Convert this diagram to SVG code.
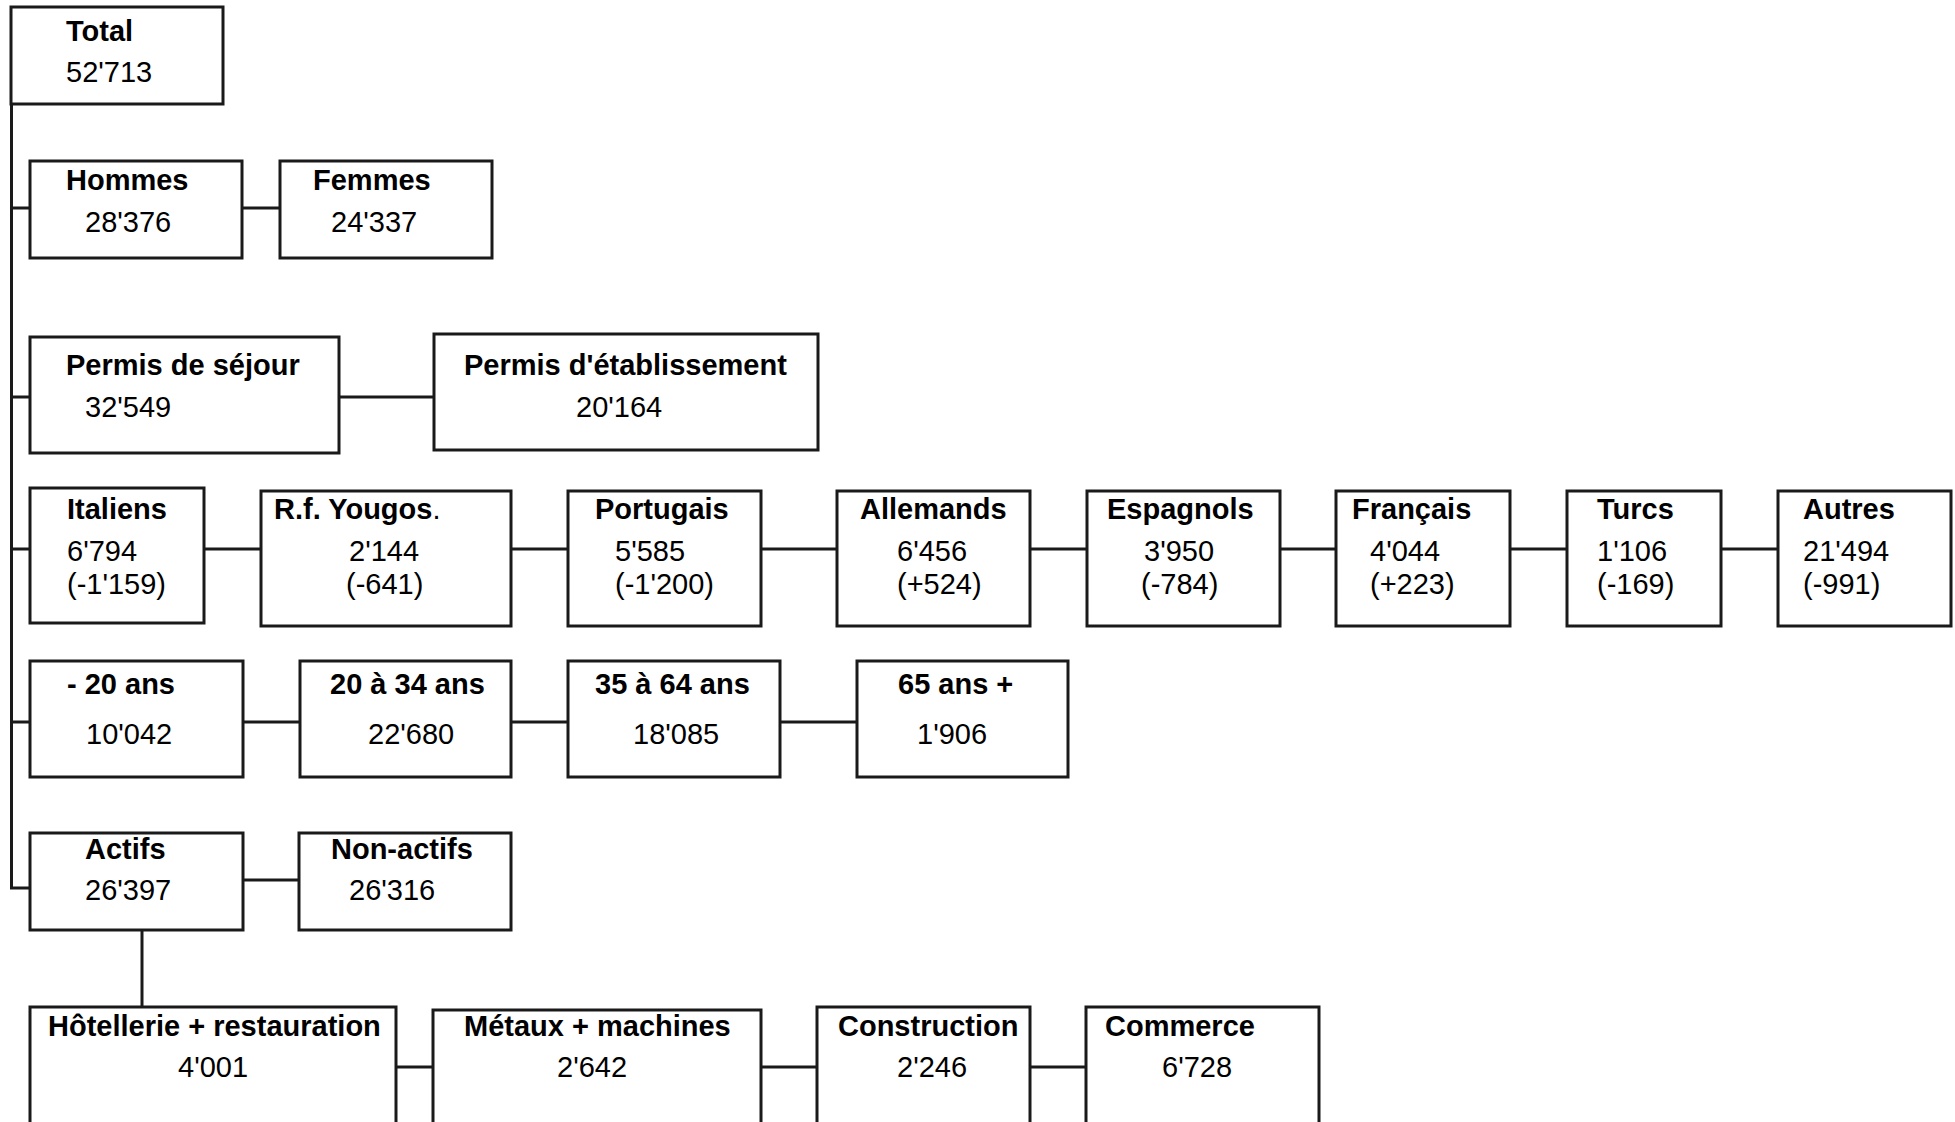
<svg xmlns="http://www.w3.org/2000/svg" width="1955" height="1122" viewBox="0 0 1955 1122">
<style>
.box{fill:#fff;stroke:#1a1a1a;stroke-width:3}
.ln{stroke:#1a1a1a;stroke-width:3;fill:none}
text{font-family:"Liberation Sans",Arial,sans-serif;font-size:29px;fill:#000}
.b{font-weight:bold}
</style>
<rect width="1955" height="1122" fill="#fff"/>
<g id="connectors">
<path class="ln" d="M11.5,104 V888 H30"/>
<path class="ln" d="M11.5,208 H30 M11.5,397 H30 M11.5,549 H30 M11.5,722 H30"/>
<path class="ln" d="M242,208 H280"/>
<path class="ln" d="M339,397 H434"/>
<path class="ln" d="M204,549 H261 M511,549 H568 M761,549 H837 M1030,549 H1087 M1280,549 H1336 M1510,549 H1567 M1721,549 H1778"/>
<path class="ln" d="M243,722 H300 M511,722 H568 M780,722 H857"/>
<path class="ln" d="M243,880 H299"/>
<path class="ln" d="M142,930 V1007"/>
<path class="ln" d="M396,1067 H433 M761,1067 H817 M1030,1067 H1086"/>
</g>
<g id="total"><rect class="box" x="11" y="7" width="212" height="97"/><text class="b" x="66" y="41">Total</text><text x="66" y="82">52'713</text></g>
<g id="hommes"><rect class="box" x="30" y="161" width="212" height="97"/><text class="b" x="66" y="190">Hommes</text><text x="85" y="232">28'376</text></g>
<g id="femmes"><rect class="box" x="280" y="161" width="212" height="97"/><text class="b" x="313" y="190">Femmes</text><text x="331" y="232">24'337</text></g>
<g id="sejour"><rect class="box" x="30" y="337" width="309" height="116"/><text class="b" x="66" y="375">Permis de séjour</text><text x="85" y="417">32'549</text></g>
<g id="etablissement"><rect class="box" x="434" y="334" width="384" height="116"/><text class="b" x="464" y="375">Permis d'établissement</text><text x="576" y="417">20'164</text></g>
<g id="italiens"><rect class="box" x="30" y="488" width="174" height="135"/><text class="b" x="67" y="519">Italiens</text><text x="67" y="561">6'794</text><text x="67" y="594">(-1'159)</text></g>
<g id="yougos"><rect class="box" x="261" y="491" width="250" height="135"/><text class="b" x="274" y="519">R.f. Yougos<tspan font-weight="normal">.</tspan></text><text x="349" y="561">2'144</text><text x="346" y="594">(-641)</text></g>
<g id="portugais"><rect class="box" x="568" y="491" width="193" height="135"/><text class="b" x="595" y="519">Portugais</text><text x="615" y="561">5'585</text><text x="615" y="594">(-1'200)</text></g>
<g id="allemands"><rect class="box" x="837" y="491" width="193" height="135"/><text class="b" x="860" y="519">Allemands</text><text x="897" y="561">6'456</text><text x="897" y="594">(+524)</text></g>
<g id="espagnols"><rect class="box" x="1087" y="491" width="193" height="135"/><text class="b" x="1107" y="519">Espagnols</text><text x="1144" y="561">3'950</text><text x="1141" y="594">(-784)</text></g>
<g id="francais"><rect class="box" x="1336" y="491" width="174" height="135"/><text class="b" x="1352" y="519">Français</text><text x="1370" y="561">4'044</text><text x="1370" y="594">(+223)</text></g>
<g id="turcs"><rect class="box" x="1567" y="491" width="154" height="135"/><text class="b" x="1597" y="519">Turcs</text><text x="1597" y="561">1'106</text><text x="1597" y="594">(-169)</text></g>
<g id="autres"><rect class="box" x="1778" y="491" width="173" height="135"/><text class="b" x="1803" y="519">Autres</text><text x="1803" y="561">21'494</text><text x="1803" y="594">(-991)</text></g>
<g id="age1"><rect class="box" x="30" y="661" width="213" height="116"/><text class="b" x="67" y="694">- 20 ans</text><text x="86" y="744">10'042</text></g>
<g id="age2"><rect class="box" x="300" y="661" width="211" height="116"/><text class="b" x="330" y="694">20 à 34 ans</text><text x="368" y="744">22'680</text></g>
<g id="age3"><rect class="box" x="568" y="661" width="212" height="116"/><text class="b" x="595" y="694">35 à 64 ans</text><text x="633" y="744">18'085</text></g>
<g id="age4"><rect class="box" x="857" y="661" width="211" height="116"/><text class="b" x="898" y="694">65 ans +</text><text x="917" y="744">1'906</text></g>
<g id="actifs"><rect class="box" x="30" y="833" width="213" height="97"/><text class="b" x="85" y="859">Actifs</text><text x="85" y="900">26'397</text></g>
<g id="nonactifs"><rect class="box" x="299" y="833" width="212" height="97"/><text class="b" x="331" y="859">Non-actifs</text><text x="349" y="900">26'316</text></g>
<g id="hotellerie"><rect class="box" x="30" y="1007" width="366" height="140"/><text class="b" x="48" y="1036">Hôtellerie + restauration</text><text x="178" y="1077">4'001</text></g>
<g id="metaux"><rect class="box" x="433" y="1010" width="328" height="140"/><text class="b" x="464" y="1036">Métaux + machines</text><text x="557" y="1077">2'642</text></g>
<g id="construction"><rect class="box" x="817" y="1007" width="213" height="140"/><text class="b" x="838" y="1036">Construction</text><text x="897" y="1077">2'246</text></g>
<g id="commerce"><rect class="box" x="1086" y="1007" width="233" height="140"/><text class="b" x="1105" y="1036">Commerce</text><text x="1162" y="1077">6'728</text></g>
</svg>
